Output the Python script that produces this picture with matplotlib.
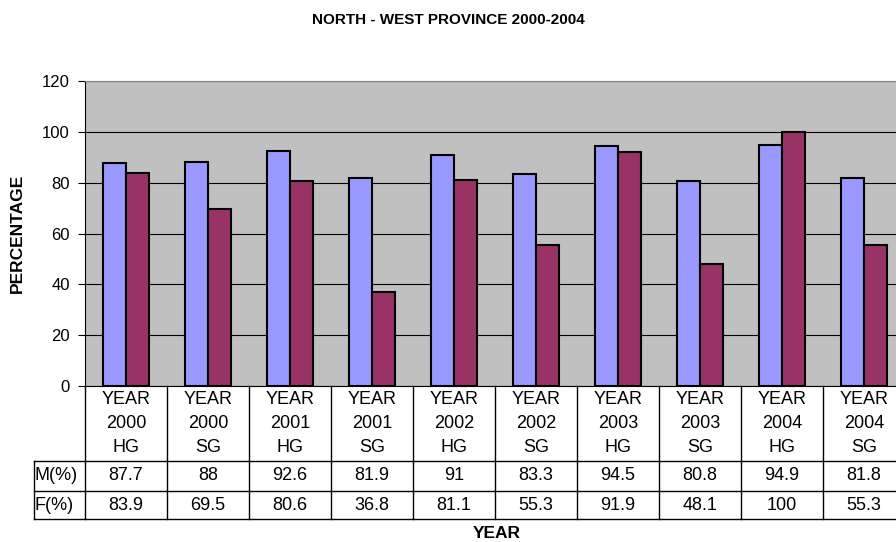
import matplotlib
matplotlib.use("Agg")
import matplotlib.pyplot as plt
from matplotlib.lines import Line2D
from matplotlib.transforms import blended_transform_factory
import numpy as np

categories = ["YEAR\n2000\nHG", "YEAR\n2000\nSG", "YEAR\n2001\nHG", "YEAR\n2001\nSG",
              "YEAR\n2002\nHG", "YEAR\n2002\nSG", "YEAR\n2003\nHG", "YEAR\n2003\nSG",
              "YEAR\n2004\nHG", "YEAR\n2004\nSG"]
m_values = [87.7, 88, 92.6, 81.9, 91, 83.3, 94.5, 80.8, 94.9, 81.8]
f_values = [83.9, 69.5, 80.6, 36.8, 81.1, 55.3, 91.9, 48.1, 100, 55.3]
m_labels = ["87.7", "88", "92.6", "81.9", "91", "83.3", "94.5", "80.8", "94.9", "81.8"]
f_labels = ["83.9", "69.5", "80.6", "36.8", "81.1", "55.3", "91.9", "48.1", "100", "55.3"]
series_names = ["M(%)", "F(%)"]

plt.rcParams['font.family'] = ['Liberation Sans', 'DejaVu Sans']

W, H = 896, 542
fig = plt.figure(figsize=(W / 100, H / 100), dpi=100)
L, R, T, B = 85, 905, 81, 386
ax = fig.add_axes([L / W, 1 - B / H, (R - L) / W, (B - T) / H])
ax.set_facecolor("#C0C0C0")

x = np.arange(len(categories))
bw = 0.285
ax.bar(x - bw / 2, m_values, bw, color="#9999FF", edgecolor="black", linewidth=1.5, zorder=3)
ax.bar(x + bw / 2, f_values, bw, color="#993366", edgecolor="black", linewidth=1.5, zorder=3)

ax.set_xlim(-0.5, len(categories) - 0.5)
ax.set_ylim(0, 120)
ax.set_yticks(range(0, 121, 20))
ax.yaxis.grid(True, color="black", linewidth=0.8, zorder=1)
ax.set_axisbelow(True)
ax.set_xticks([])
ax.tick_params(axis='y', labelsize=12, length=5, width=0.8, direction='out', pad=6)
for s in ax.spines.values():
    s.set_color("#808080")
    s.set_linewidth(0.8)
ax.spines['left'].set_color("black")
ax.spines['bottom'].set_color("black")

# data table under the plot
def yax(py):
    return (B - py) / (B - T)

y1, y2, y3 = yax(461), yax(491), yax(519)
lab_left = (34 - L) / (R - L) * len(categories) - 0.5
bt = blended_transform_factory(ax.transData, ax.transAxes)
lk = dict(color="black", linewidth=1.0, transform=bt, clip_on=False)
for i in range(len(categories) + 1):
    ax.add_line(Line2D([i - 0.5, i - 0.5], [0, y3], **lk))
for yy in (y1, y2, y3):
    ax.add_line(Line2D([lab_left, len(categories) - 0.5], [yy, yy], **lk))
ax.add_line(Line2D([lab_left, lab_left], [y1, y3], **lk))

fs = 13
for i, c in enumerate(categories):
    ax.text(i, (0 + y1) / 2, c, transform=bt, ha="center", va="center",
            fontsize=fs, linespacing=1.5, clip_on=False)
    ax.text(i, (y1 + y2) / 2, m_labels[i], transform=bt, ha="center", va="center",
            fontsize=fs, clip_on=False)
    ax.text(i, (y2 + y3) / 2, f_labels[i], transform=bt, ha="center", va="center",
            fontsize=fs, clip_on=False)
ax.text(lab_left + 0.01, (y1 + y2) / 2, series_names[0], transform=bt, ha="left",
        va="center", fontsize=fs, clip_on=False)
ax.text(lab_left + 0.01, (y2 + y3) / 2, series_names[1], transform=bt, ha="left",
        va="center", fontsize=fs, clip_on=False)

fig.text(448 / W, 1 - 20 / H, "NORTH - WEST PROVINCE 2000-2004", ha="center",
         va="center", fontsize=11, fontweight="bold")
fig.text(17 / W, 1 - 233 / H, "PERCENTAGE", ha="center", va="center", rotation=90,
         fontsize=12.5, fontweight="bold")
fig.text(497 / W, 1 - 534 / H, "YEAR", ha="center", va="center", fontsize=12.5,
         fontweight="bold")

fig.savefig("out.png", dpi=100)
